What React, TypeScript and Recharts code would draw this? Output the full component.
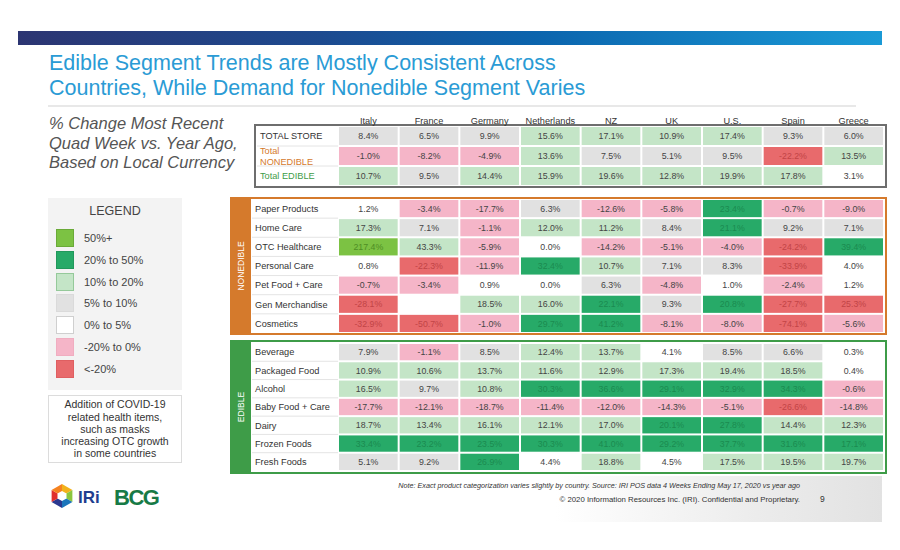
import { Scatter, ScatterChart, XAxis, YAxis } from 'recharts'

const countries = ['Italy', 'France', 'Germany', 'Netherlands', 'NZ', 'UK', 'U.S.', 'Spain', 'Greece']

// top summary table
const totalRows = ['TOTAL STORE', 'Total NONEDIBLE', 'Total EDIBLE']
const totalStore = [8.4, 6.5, 9.9, 15.6, 17.1, 10.9, 17.4, 9.3, 6.0]
const totalNonedible = [-1.0, -8.2, -4.9, 13.6, 7.5, 5.1, 9.5, -22.2, 13.5]
const totalEdible = [10.7, 9.5, 14.4, 15.9, 19.6, 12.8, 19.9, 17.8, 3.1]

// nonedible categories
const nonedibleRows = ['Paper Products', 'Home Care', 'OTC Healthcare', 'Personal Care', 'Pet Food + Care', 'Gen Merchandise', 'Cosmetics']
const paperProducts = [1.2, -3.4, -17.7, 6.3, -12.6, -5.8, 23.4, -0.7, -9.0]
const homeCare = [17.3, 7.1, -1.1, 12.0, 11.2, 8.4, 21.1, 9.2, 7.1]
const otcHealthcare = [217.4, 43.3, -5.9, 0.0, -14.2, -5.1, -4.0, -24.2, 39.4]
const personalCare = [0.8, -22.3, -11.9, 32.4, 10.7, 7.1, 8.3, -33.9, 4.0]
const petFood = [-0.7, -3.4, 0.9, 0.0, 6.3, -4.8, 1.0, -2.4, 1.2]
const genMerchandise = [-28.1, null, 18.5, 16.0, 22.1, 9.3, 20.8, -27.7, 25.3]
const cosmetics = [-32.9, -50.7, -1.0, 29.7, 41.2, -8.1, -8.0, -74.1, -5.6]

// edible categories
const edibleRows = ['Beverage', 'Packaged Food', 'Alcohol', 'Baby Food + Care', 'Dairy', 'Frozen Foods', 'Fresh Foods']
const beverage = [7.9, -1.1, 8.5, 12.4, 13.7, 4.1, 8.5, 6.6, 0.3]
const packagedFood = [10.9, 10.6, 13.7, 11.6, 12.9, 17.3, 19.4, 18.5, 0.4]
const alcohol = [16.5, 9.7, 10.8, 30.3, 36.6, 29.1, 32.9, 34.3, -0.6]
const babyFood = [-17.7, -12.1, -18.7, -11.4, -12.0, -14.3, -5.1, -26.6, -14.8]
const dairy = [18.7, 13.4, 16.1, 12.1, 17.0, 20.1, 27.8, 14.4, 12.3]
const frozenFoods = [33.4, 23.2, 23.5, 30.3, 41.0, 29.2, 37.7, 31.6, 17.1]
const freshFoods = [5.1, 9.2, 26.9, 4.4, 18.8, 4.5, 17.5, 19.5, 19.7]

type Bucket = 'bright' | 'dark' | 'light' | 'grey' | 'white' | 'pink' | 'red'

const legendItems: { label: string; bucket: Bucket }[] = [
  { label: '50%+', bucket: 'bright' },
  { label: '20% to 50%', bucket: 'dark' },
  { label: '10% to 20%', bucket: 'light' },
  { label: '5% to 10%', bucket: 'grey' },
  { label: '0% to 5%', bucket: 'white' },
  { label: '-20% to 0%', bucket: 'pink' },
  { label: '<-20%', bucket: 'red' },
]

// cells that the slide colours differently from the legend
const colourOverrides: Record<string, Bucket> = {
  'OTC Healthcare|France': 'light',
  'Gen Merchandise|Greece': 'red',
  'Frozen Foods|Greece': 'dark',
}

const fills: Record<Bucket, string> = {
  bright: '#7cc243',
  dark: '#27aa68',
  light: '#c4e5c7',
  grey: '#e1e1e1',
  white: '#ffffff',
  pink: '#f5b5c8',
  red: '#e86a6c',
}
const inks: Record<Bucket, string> = {
  bright: '#4f8e24',
  dark: '#1b8a50',
  light: '#444',
  grey: '#444',
  white: '#444',
  pink: '#444',
  red: '#c24446',
}
const swatchBorders: Record<Bucket, string> = {
  bright: '#6aaa38',
  dark: '#22985c',
  light: '#95c99a',
  grey: '#dadada',
  white: '#cfcfcf',
  pink: '#f0adc0',
  red: '#df5f61',
}

const ORANGE = '#d57a2c'
const GREEN = '#3e9c48'
const FONT = '"Liberation Sans", Arial, sans-serif'

function bucketOf(v: number): Bucket {
  if (v >= 50) return 'bright'
  if (v >= 20) return 'dark'
  if (v >= 10) return 'light'
  if (v >= 5) return 'grey'
  if (v >= 0) return 'white'
  if (v >= -20) return 'pink'
  return 'red'
}

interface CellDatum {
  col: number
  row: number
  value: number
  bucket: Bucket
}

function toCells(rowNames: string[], values: (number | null)[][]): CellDatum[] {
  const out: CellDatum[] = []
  values.forEach((rowVals, r) =>
    rowVals.forEach((v, c) => {
      if (v === null) return
      const key = `${rowNames[r]}|${countries[c]}`
      out.push({ col: c, row: r, value: v, bucket: colourOverrides[key] ?? bucketOf(v) })
    })
  )
  return out
}

const PLOT_W = 546
const COL_W = PLOT_W / countries.length

interface HeatTableProps {
  rowNames: string[]
  values: (number | null)[][]
  labelW: number
  height: number
  headerH?: number
  labelColors?: string[]
  wrap?: string[]
}

function HeatTable({ rowNames, values, labelW, height, headerH = 0, labelColors, wrap = [] }: HeatTableProps) {
  const rowH = (height - headerH) / rowNames.length
  const data = toCells(rowNames, values)

  const renderCell = (props: any) => {
    const { cx, cy, payload } = props
    const d = payload as CellDatum
    return (
      <g>
        <rect x={cx - COL_W / 2 + 1} y={cy - rowH / 2 + 1} width={COL_W - 2} height={rowH - 2} fill={fills[d.bucket]} />
        <text x={cx} y={cy} dy="0.36em" textAnchor="middle" fontSize={8.8} fill={inks[d.bucket]} fontFamily={FONT}>
          {`${d.value.toFixed(1)}%`}
        </text>
      </g>
    )
  }

  const renderLabel = (props: any) => {
    const { y, payload } = props
    const name = rowNames[payload.value]
    const lines = wrap.includes(name) ? name.split(' ') : [name]
    const color = labelColors ? labelColors[payload.value] : '#333'
    return (
      <g>
        {payload.value < rowNames.length - 1 && (
          <line x1={1} x2={labelW} y1={y + rowH / 2} y2={y + rowH / 2} stroke="#e4e4e4" strokeWidth={1} />
        )}
        <text x={4} y={y} textAnchor="start" fontSize={9.2} fill={color} fontFamily={FONT}>
          {lines.map((ln, i) => (
            <tspan key={ln} x={4} dy={i === 0 ? `${0.36 - (lines.length - 1) * 0.6}em` : '1.2em'}>
              {ln}
            </tspan>
          ))}
        </text>
      </g>
    )
  }

  const renderHeader = (props: any) => {
    const { x, payload } = props
    return (
      <text x={x} y={headerH - 2} textAnchor="middle" fontSize={9.2} fill="#333" fontFamily={FONT}>
        {countries[payload.value]}
      </text>
    )
  }

  return (
    <ScatterChart width={labelW + PLOT_W} height={height} margin={{ top: 0, right: 0, bottom: 0, left: 0 }}>
      <XAxis
        type="number"
        dataKey="col"
        domain={[-0.5, countries.length - 0.5]}
        ticks={countries.map((_, i) => i)}
        interval={0}
        orientation="top"
        hide={!headerH}
        height={headerH || 1}
        axisLine={false}
        tickLine={false}
        tick={renderHeader}
        allowDataOverflow
      />
      <YAxis
        type="number"
        dataKey="row"
        domain={[-0.5, rowNames.length - 0.5]}
        ticks={rowNames.map((_, i) => i)}
        interval={0}
        reversed
        width={labelW}
        axisLine={false}
        tickLine={false}
        tick={renderLabel}
        allowDataOverflow
      />
      <Scatter data={data} shape={renderCell} isAnimationActive={false} />
    </ScatterChart>
  )
}

function IriLogo() {
  const cx = 62
  const cy = 496
  const r = 12
  const colors = ['#f2b21b', '#8cc63f', '#1b75bb', '#2b3990', '#e0302e', '#f58220']
  const pts = Array.from({ length: 6 }, (_, i) => {
    const a = (Math.PI / 3) * i - Math.PI / 2
    return [cx + r * Math.cos(a), cy + r * Math.sin(a)]
  })
  return (
    <svg width={180} height={40} style={{ position: 'absolute', left: 0, top: 476 }} viewBox="0 476 180 40">
      {pts.map((p, i) => {
        const q = pts[(i + 1) % 6]
        return <polygon key={i} points={`${cx},${cy} ${p[0]},${p[1]} ${q[0]},${q[1]}`} fill={colors[i]} />
      })}
      <polygon points={`${cx},${cy - 5} ${cx + 4.5},${cy - 2.5} ${cx + 4.5},${cy + 2.5} ${cx},${cy + 5} ${cx - 4.5},${cy + 2.5} ${cx - 4.5},${cy - 2.5}`} fill="#fff" />
      <text x={78} y={503} fontSize={17} fontWeight="bold" fill="#213d8f" fontFamily={FONT}>IRi</text>
      <text x={114} y={505} fontSize={22} fontWeight="bold" fill="#177a46" fontFamily={FONT} letterSpacing={-1.5}>BCG</text>
    </svg>
  )
}

export default function App() {
  return (
    <div style={{ position: 'absolute', left: 0, top: 0, width: 900, height: 550, background: '#fff', overflow: 'hidden', fontFamily: FONT }}>
      <div style={{ position: 'absolute', left: 18, top: 31, width: 864, height: 14, background: 'linear-gradient(90deg, #2c3572 0%, #1d4a8f 35%, #0b64ad 60%, #1a9ad6 100%)' }} />
      <div style={{ position: 'absolute', left: 49, top: 51, fontSize: 21.5, lineHeight: '25px', color: '#2a9bd5' }}>
        Edible Segment Trends are Mostly Consistent Across
        <br />
        Countries, While Demand for Nonedible Segment Varies
      </div>
      <div style={{ position: 'absolute', left: 48, top: 105, width: 808, height: 2, background: '#e8e8e8' }} />

      <div style={{ position: 'absolute', left: 49, top: 114, fontSize: 16.5, lineHeight: '19.5px', color: '#555', fontStyle: 'italic' }}>
        % Change Most Recent
        <br />
        Quad Week vs. Year Ago,
        <br />
        Based on Local Currency
      </div>

      {/* legend */}
      <div style={{ position: 'absolute', left: 48, top: 198, width: 134, height: 192, background: '#f3f3f3' }}>
        <div style={{ position: 'absolute', left: 0, top: 6, width: 134, textAlign: 'center', fontSize: 12.5, color: '#444' }}>LEGEND</div>
        {legendItems.map((it, i) => (
          <div key={it.label} style={{ position: 'absolute', left: 8, top: 31 + i * 21.8, height: 18, display: 'flex', alignItems: 'center' }}>
            <div style={{ width: 18, height: 18, boxSizing: 'border-box', background: fills[it.bucket], border: `1px solid ${swatchBorders[it.bucket]}` }} />
            <span style={{ marginLeft: 10, fontSize: 11, color: '#444' }}>{it.label}</span>
          </div>
        ))}
      </div>
      <div style={{ position: 'absolute', left: 48, top: 395, width: 134, height: 68, boxSizing: 'border-box', border: '1px solid #dcdcdc', background: '#fff', display: 'flex', alignItems: 'center', justifyContent: 'center', textAlign: 'center', fontSize: 10.5, lineHeight: '12.2px', color: '#333' }}>
        Addition of COVID-19
        <br />
        related health items,
        <br />
        such as masks
        <br />
        increasing OTC growth
        <br />
        in some countries
      </div>

      {/* summary table */}
      <div style={{ position: 'absolute', left: 254, top: 124, width: 633, height: 64, boxSizing: 'border-box', border: '2px solid #6e6e6e' }} />
      <div style={{ position: 'absolute', left: 256, top: 108 }}>
        <HeatTable
          rowNames={totalRows}
          values={[totalStore, totalNonedible, totalEdible]}
          labelW={82}
          height={78}
          headerH={18}
          labelColors={['#333', ORANGE, GREEN]}
          wrap={['Total NONEDIBLE']}
        />
      </div>

      {/* nonedible */}
      <div style={{ position: 'absolute', left: 230, top: 197, width: 657, height: 138, boxSizing: 'border-box', border: `2px solid ${ORANGE}` }} />
      <div style={{ position: 'absolute', left: 230, top: 197, width: 21, height: 138, background: ORANGE }}>
        <span style={{ position: 'absolute', left: '50%', top: '50%', transform: 'translate(-50%, -50%) rotate(-90deg)', color: '#fff', fontSize: 8.5, whiteSpace: 'nowrap' }}>NONEDIBLE</span>
      </div>
      <div style={{ position: 'absolute', left: 251, top: 199 }}>
        <HeatTable
          rowNames={nonedibleRows}
          values={[paperProducts, homeCare, otcHealthcare, personalCare, petFood, genMerchandise, cosmetics]}
          labelW={87}
          height={134}
        />
      </div>

      {/* edible */}
      <div style={{ position: 'absolute', left: 230, top: 340, width: 657, height: 134, boxSizing: 'border-box', border: `2px solid ${GREEN}` }} />
      <div style={{ position: 'absolute', left: 230, top: 340, width: 21, height: 134, background: GREEN }}>
        <span style={{ position: 'absolute', left: '50%', top: '50%', transform: 'translate(-50%, -50%) rotate(-90deg)', color: '#fff', fontSize: 8.5, whiteSpace: 'nowrap' }}>EDIBLE</span>
      </div>
      <div style={{ position: 'absolute', left: 251, top: 343 }}>
        <HeatTable
          rowNames={edibleRows}
          values={[beverage, packagedFood, alcohol, babyFood, dairy, frozenFoods, freshFoods]}
          labelW={87}
          height={128}
        />
      </div>

      {/* footer */}
      <div style={{ position: 'absolute', left: 380, top: 476, width: 502, height: 46, background: 'linear-gradient(90deg, #ffffff 0%, #ffffff 35%, #ececec 75%, #e2e2e2 100%)' }} />
      <div style={{ position: 'absolute', right: 100, top: 481, fontSize: 7.2, fontStyle: 'italic', color: '#333', whiteSpace: 'nowrap' }}>
        Note: Exact product categorization varies slightly by country. Source: IRI POS data 4 Weeks Ending May 17, 2020 vs year ago
      </div>
      <div style={{ position: 'absolute', right: 100, top: 495, fontSize: 7.8, color: '#333', whiteSpace: 'nowrap' }}>
        © 2020 Information Resources Inc. (IRI). Confidential and Proprietary.
      </div>
      <div style={{ position: 'absolute', left: 820, top: 494, fontSize: 8.5, color: '#333' }}>9</div>
      <IriLogo />
    </div>
  )
}
